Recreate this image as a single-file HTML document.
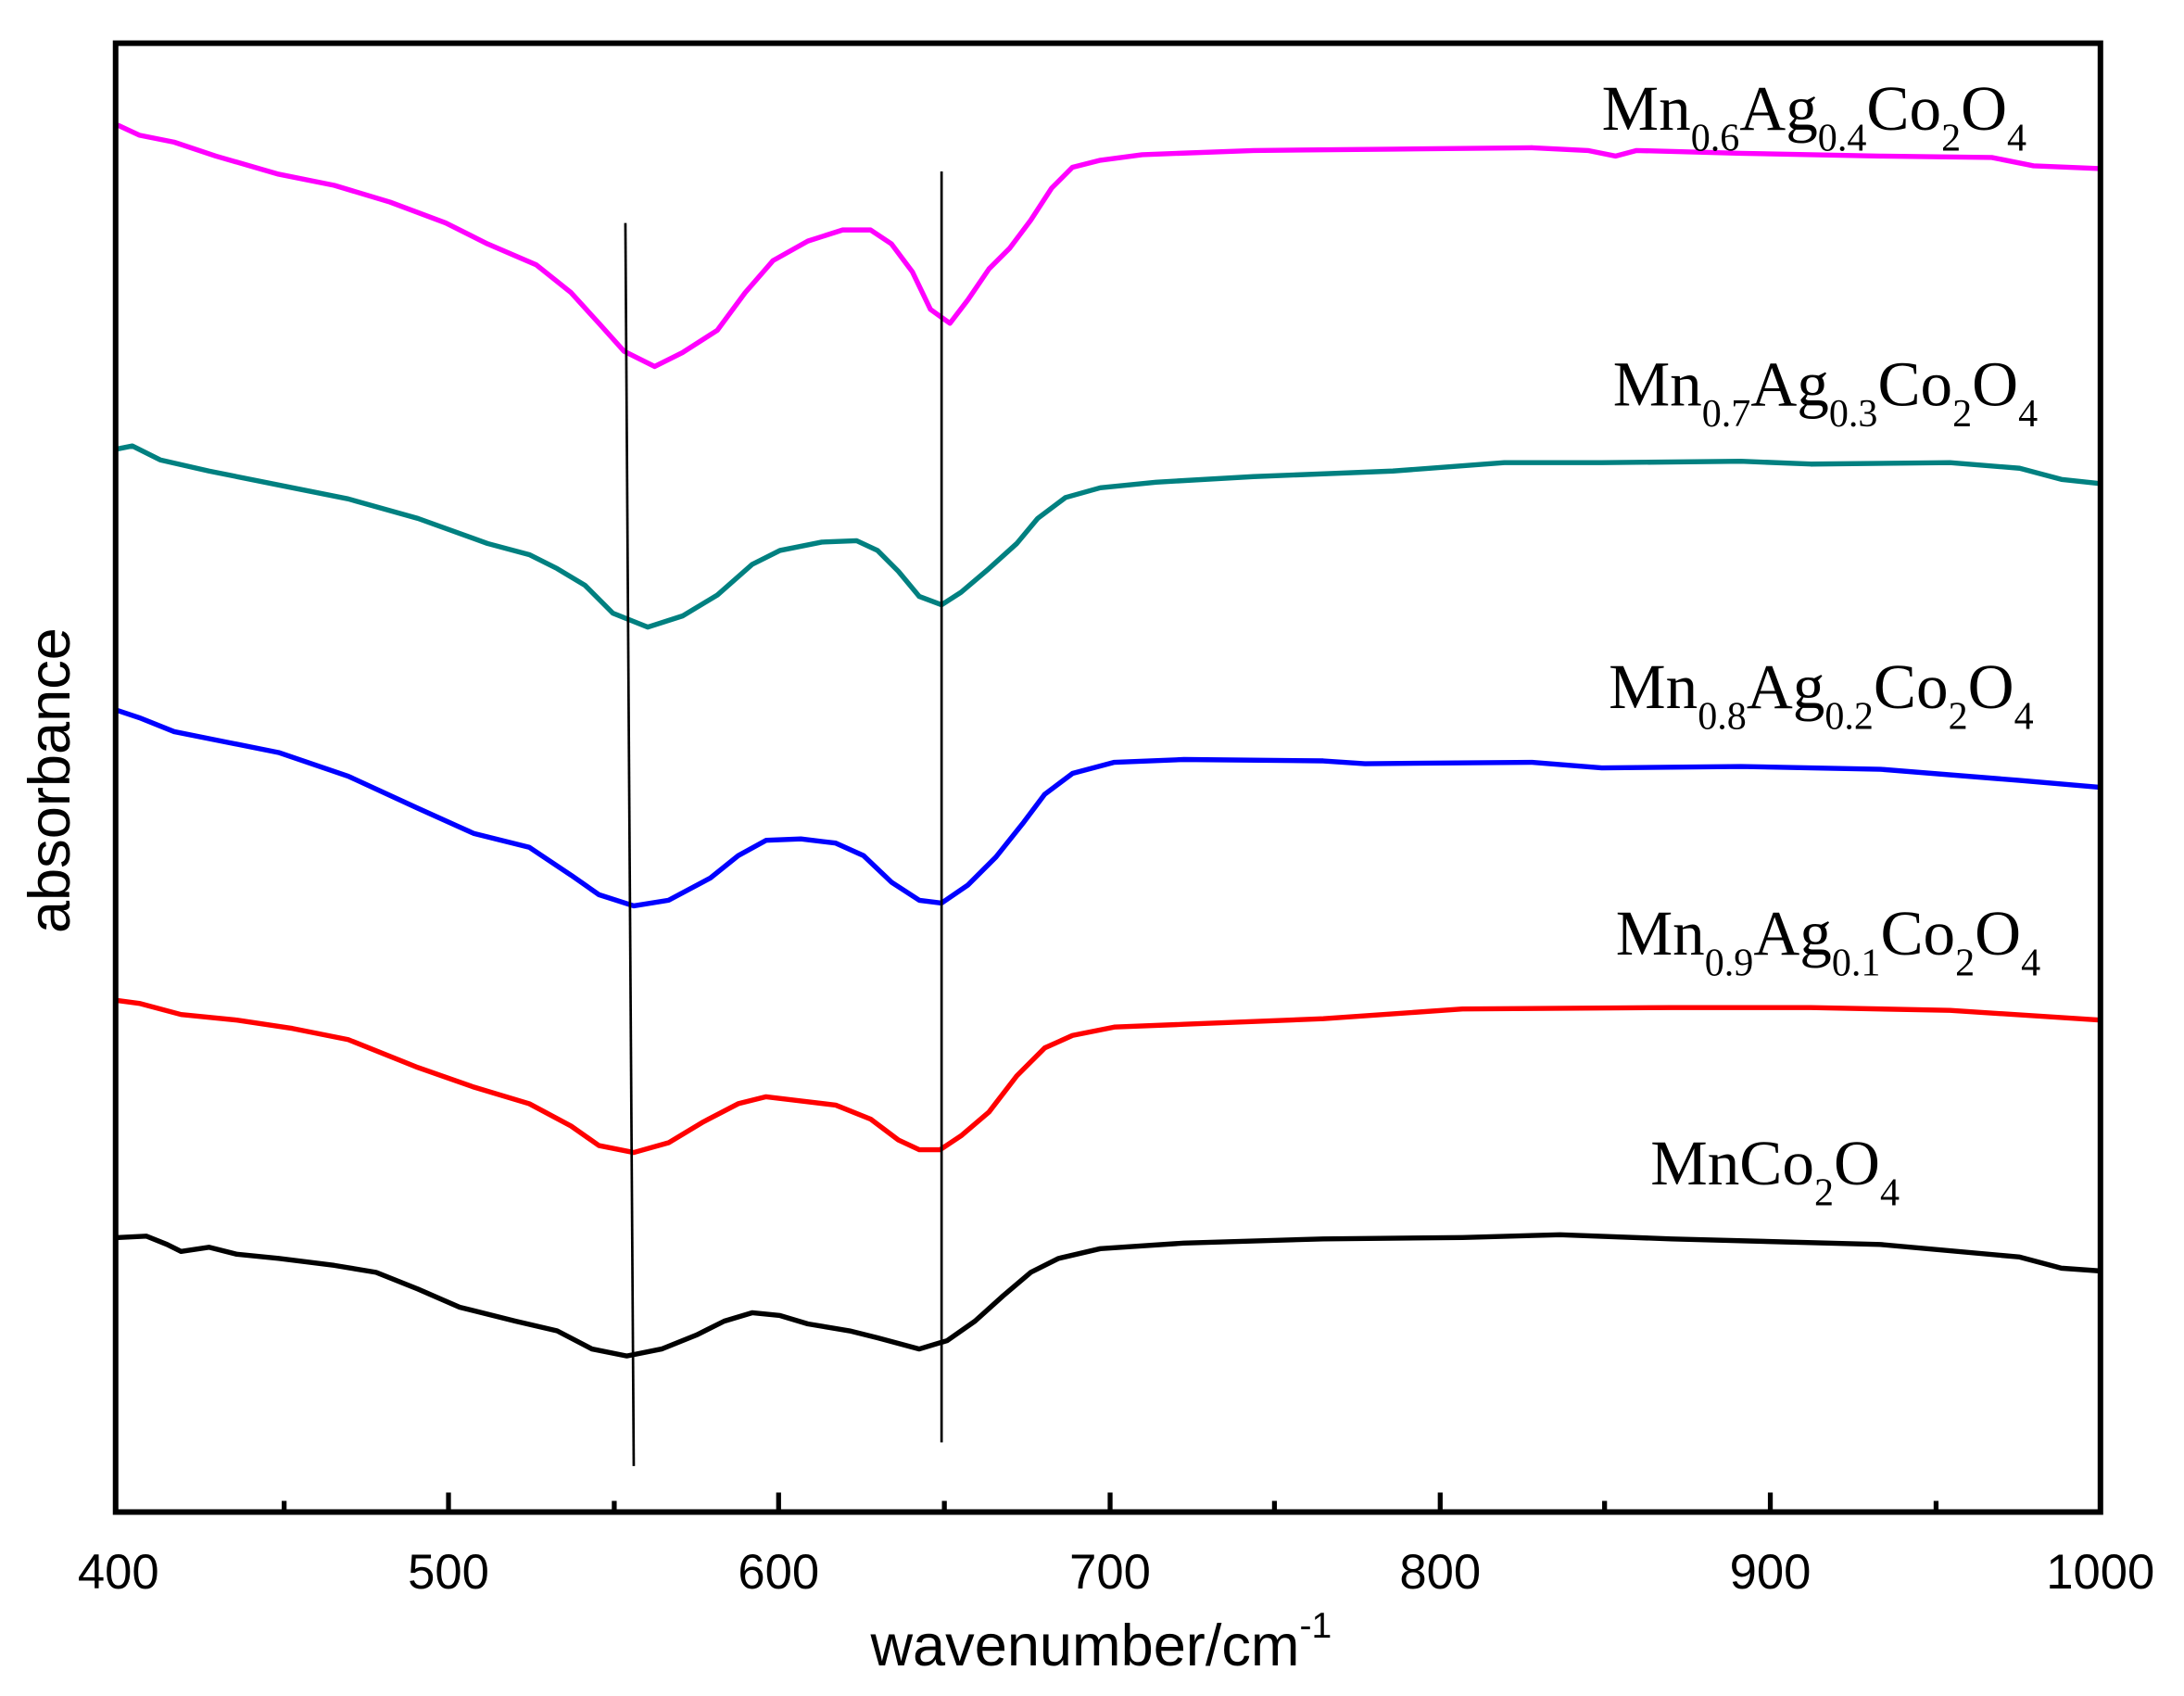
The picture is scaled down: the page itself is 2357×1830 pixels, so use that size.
<!DOCTYPE html>
<html><head><meta charset="utf-8"><style>
html,body{margin:0;padding:0;background:#fff}
svg{display:block}
.t{font-family:"Liberation Serif",serif;font-size:46px;fill:#000}
.s{font-size:28px}
.a{font-family:"Liberation Sans",sans-serif;fill:#000}
</style></head><body>
<svg width="2357" height="1830" viewBox="0 0 1568 1217" preserveAspectRatio="none" xmlns="http://www.w3.org/2000/svg">
<rect x="0" y="0" width="1568" height="1217" fill="#fff"/>
<g fill="none" stroke-width="3.6" stroke-linejoin="round" stroke-linecap="round">
<polyline stroke="#ff00ff" points="85,90 100,97 125,102 155,112 200,125 240,133 280,145 320,160 350,175 385,190 410,210 430,232 448,252 470,263 490,253 515,237 535,210 555,187 580,173 605,165 625,165 640,175 655,195 668,222 682,232 695,215 710,193 725,178 740,158 755,135 770,120 790,115 820,111 900,108 1000,107 1100,106 1140,108 1160,112 1175,108 1250,110 1350,112 1430,113 1460,119 1508,121"/>
<polyline stroke="#008080" points="85,322 95,320 115,330 150,338 200,348 250,358 300,372 350,390 380,398 400,408 420,420 440,440 465,450 490,442 515,427 540,405 560,395 590,389 615,388 630,395 645,410 660,428 676,434 690,425 710,408 730,390 745,372 765,357 790,350 830,346 900,342 1000,338 1080,332 1150,332 1250,331 1300,333 1400,332 1450,336 1480,344 1508,347"/>
<polyline stroke="#0000ff" points="85,510 100,515 125,525 165,533 200,540 250,557 300,580 340,598 380,608 410,628 430,642 455,650 480,646 510,630 530,614 550,603 575,602 600,605 620,614 640,633 660,646 676,648 695,635 715,615 735,590 750,570 770,555 800,547 850,545 950,546 980,548 1100,547 1150,551 1250,550 1350,552 1450,560 1508,565"/>
<polyline stroke="#ff0000" points="85,718 100,720 130,728 170,732 210,738 250,746 300,766 340,780 380,792 410,808 430,822 455,827 480,820 505,805 530,792 550,787 575,790 600,793 625,803 645,818 660,825 675,825 690,815 710,798 730,772 750,752 770,743 800,737 850,735 950,731 1050,724 1200,723 1300,723 1400,725 1508,732"/>
<polyline stroke="#000" points="85,888 105,887 120,893 130,898 150,895 170,900 200,903 240,908 270,913 300,925 330,938 370,948 400,955 425,968 450,973 475,968 500,958 520,948 540,942 560,944 580,950 610,955 630,960 660,968 680,962 700,948 720,930 740,913 760,903 790,896 850,892 950,889 1050,888 1120,886 1200,889 1350,893 1450,902 1480,910 1508,912"/>
</g>
<line x1="449" y1="160" x2="455" y2="1052" stroke="#000" stroke-width="1.8"/>
<line x1="676" y1="123" x2="676" y2="1035" stroke="#000" stroke-width="1.8"/>
<rect x="83" y="31" width="1425" height="1054" fill="none" stroke="#000" stroke-width="4"/>
<g stroke="#000" stroke-width="3.5">
<line x1="322" y1="1085" x2="322" y2="1071"/><line x1="559" y1="1085" x2="559" y2="1071"/><line x1="797" y1="1085" x2="797" y2="1071"/><line x1="1034" y1="1085" x2="1034" y2="1071"/><line x1="1271" y1="1085" x2="1271" y2="1071"/>
<line x1="204" y1="1085" x2="204" y2="1077"/><line x1="441" y1="1085" x2="441" y2="1077"/><line x1="678" y1="1085" x2="678" y2="1077"/><line x1="915" y1="1085" x2="915" y2="1077"/><line x1="1152" y1="1085" x2="1152" y2="1077"/><line x1="1390" y1="1085" x2="1390" y2="1077"/>
</g>
<g class="a" font-size="35" text-anchor="middle">
<text x="85" y="1140">400</text><text x="322" y="1140">500</text><text x="559" y="1140">600</text><text x="797" y="1140">700</text><text x="1034" y="1140">800</text><text x="1271" y="1140">900</text><text x="1508" y="1140">1000</text>
</g>
<text class="a" font-size="42" x="625" y="1195">wavenumber/cm<tspan font-size="26" dy="-20">-1</tspan></text>
<text class="a" font-size="42" transform="translate(50,560) rotate(-90)" text-anchor="middle">absorbance</text>
<text class="t" x="1150" y="93">Mn<tspan class="s" dy="15">0.6</tspan><tspan dy="-15">Ag</tspan><tspan class="s" dy="15">0.4</tspan><tspan dy="-15">Co</tspan><tspan class="s" dy="15">2</tspan><tspan dy="-15">O</tspan><tspan class="s" dy="15">4</tspan></text>
<text class="t" x="1158" y="291">Mn<tspan class="s" dy="15">0.7</tspan><tspan dy="-15">Ag</tspan><tspan class="s" dy="15">0.3</tspan><tspan dy="-15">Co</tspan><tspan class="s" dy="15">2</tspan><tspan dy="-15">O</tspan><tspan class="s" dy="15">4</tspan></text>
<text class="t" x="1155" y="508">Mn<tspan class="s" dy="15">0.8</tspan><tspan dy="-15">Ag</tspan><tspan class="s" dy="15">0.2</tspan><tspan dy="-15">Co</tspan><tspan class="s" dy="15">2</tspan><tspan dy="-15">O</tspan><tspan class="s" dy="15">4</tspan></text>
<text class="t" x="1160" y="685">Mn<tspan class="s" dy="15">0.9</tspan><tspan dy="-15">Ag</tspan><tspan class="s" dy="15">0.1</tspan><tspan dy="-15">Co</tspan><tspan class="s" dy="15">2</tspan><tspan dy="-15">O</tspan><tspan class="s" dy="15">4</tspan></text>
<text class="t" x="1185" y="850">MnCo<tspan class="s" dy="15">2</tspan><tspan dy="-15">O</tspan><tspan class="s" dy="15">4</tspan></text>
</svg>
</body></html>
